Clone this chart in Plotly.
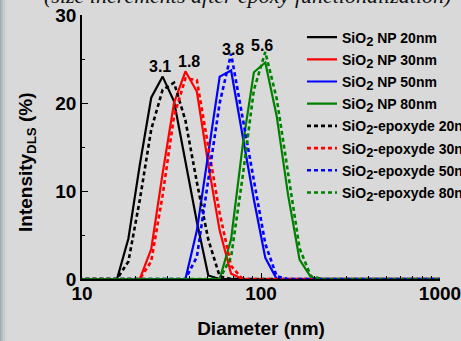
import math
import plotly.graph_objects as go

# DLS size bins (nm)
diameter = [8.721, 10.1, 11.7, 13.54, 15.69, 18.17, 21.04, 24.36, 28.21, 32.67,
            37.84, 43.82, 50.75, 58.77, 68.06, 78.82, 91.28, 105.7, 122.4, 141.8,
            164.2, 190.1, 220.2, 255.0, 295.3, 342.0, 396.1, 458.7, 531.2, 615.1,
            712.4, 825.0, 955.4, 1106]

np20 = [0, 0, 0, 0, 0, 4.6, 13.0, 20.6, 23.0, 20.2, 13.5, 6.5, 0.4, 0, 0, 0, 0,
        0, 0, 0, 0, 0, 0, 0, 0, 0, 0, 0, 0, 0, 0, 0, 0, 0]
np30 = [0, 0, 0, 0, 0, 0, 0, 3.4, 12.0, 20.0, 23.6, 21.3, 13.0, 5.5, 0.6, 0, 0,
        0, 0, 0, 0, 0, 0, 0, 0, 0, 0, 0, 0, 0, 0, 0, 0, 0]
np50 = [0, 0, 0, 0, 0, 0, 0, 0, 0, 0, 0, 5.5, 14.5, 23.0, 23.7, 16.5, 9.0,
        2.4, 0, 0, 0, 0, 0, 0, 0, 0, 0, 0, 0, 0, 0, 0, 0, 0]
np80 = [0, 0, 0, 0, 0, 0, 0, 0, 0, 0, 0, 0, 0, 0, 4.5, 15.0, 23.5,
        24.6, 18.5, 9.5, 2.2, 0.2, 0, 0, 0, 0, 0, 0, 0, 0, 0, 0, 0, 0]
ep20 = [0, 0, 0, 0, 0, 2.0, 9.0, 17.0, 21.5, 22.3, 18.0, 11.0, 4.5, 0.3, 0, 0, 0,
        0, 0, 0, 0, 0, 0, 0, 0, 0, 0, 0, 0, 0, 0, 0, 0, 0]
ep30 = [0, 0, 0, 0, 0, 0, 0, 2.0, 9.5, 18.5, 22.8, 22.6, 15.0, 7.5, 1.5, 0, 0,
        0, 0, 0, 0, 0, 0, 0, 0, 0, 0, 0, 0, 0, 0, 0, 0, 0]
ep50 = [0, 0, 0, 0, 0, 0, 0, 0, 0, 0, 0, 2.5, 11.5, 20.0, 25.6, 18.5, 11.0,
        4.0, 0.3, 0, 0, 0, 0, 0, 0, 0, 0, 0, 0, 0, 0, 0, 0, 0]
ep80 = [0, 0, 0, 0, 0, 0, 0, 0, 0, 0, 0, 0, 0, 0, 2.5, 11.5, 21.5,
        25.8, 20.5, 12.0, 3.5, 0.3, 0, 0, 0, 0, 0, 0, 0, 0, 0, 0, 0, 0]

SUB2 = "<sub><span style='font-size:13px'>2</span></sub>"
series_names = ["SiO" + SUB2 + " NP 20nm", "SiO" + SUB2 + " NP 30nm",
                "SiO" + SUB2 + " NP 50nm", "SiO" + SUB2 + " NP 80nm",
                "SiO" + SUB2 + "-epoxyde 20nm", "SiO" + SUB2 + "-epoxyde 30nm",
                "SiO" + SUB2 + "-epoxyde 50nm", "SiO" + SUB2 + "-epoxyde 80nm"]
series_values = [np20, np30, np50, np80, ep20, ep30, ep50, ep80]
series_colors = ["#000000", "#ff0000", "#0000ff", "#008000",
                 "#000000", "#ff0000", "#0000ff", "#008000"]
series_dash = ["solid"] * 4 + ["4px,3px"] * 4

# size increment labels above peaks
inc_labels = ["3.1", "1.8", "3.8", "5.6"]
inc_x = [27.3, 39.6, 69.8, 101.3]
inc_y = [24.2, 24.7, 26.1, 26.5]

x_ticks = [10, 100, 1000]
x_ticktext = ["<b>10</b>", "<b>100</b>", "<b>1000</b>"]
y_ticks = [0, 10, 20, 30]
y_ticktext = ["<b>0</b>", "<b>10</b>", "<b>20</b>", "<b>30</b>"]

W, H = 461, 341
L, R, T, B = 82, 21, 15, 62
pw, ph = W - L - R, H - T - B

fig = go.Figure()
for i, (nm, vals, col, dsh) in enumerate(zip(series_names, series_values,
                                             series_colors, series_dash)):
    fig.add_trace(go.Scatter(
        x=diameter, y=vals, mode="lines", name="<b>" + nm + "</b>",
        line=dict(color=col, width=2.2 if dsh == "solid" else 2.6, dash=dsh),
        legendgroup=f"g{i}", showlegend=True))

for lab, xv, yv in zip(inc_labels, inc_x, inc_y):
    fig.add_annotation(x=math.log10(xv), y=yv, xref="x", yref="y",
                       text="<b>" + lab + "</b>", showarrow=False,
                       font=dict(size=16, color="black", family="Liberation Sans"),
                       xanchor="center", yanchor="middle")

# partially visible caption at top
fig.add_annotation(x=(247.5 - L) / pw, y=(H - B + 4) / ph, xref="paper",
                   yref="paper", xanchor="center", yanchor="middle",
                   text="<i>(size increments after epoxy functionalization)</i>",
                   showarrow=False,
                   font=dict(size=22, color="#111111", family="Liberation Serif"))

# y-axis title (placed slightly below plot centre, as in the original)
fig.add_annotation(x=(27 - L) / pw, y=(H - B - 162) / ph, xref="paper",
                   yref="paper", textangle=-90, showarrow=False,
                   xanchor="center", yanchor="middle",
                   text="<b>Intensity<sub>DLS</sub> (%)</b>",
                   font=dict(size=19, color="black", family="Liberation Sans"))

# left edge shading strip
strip_cols = ["rgba(150,165,170,0.9)", "rgba(165,178,182,0.7)",
              "rgba(180,190,193,0.5)", "rgba(195,201,203,0.35)",
              "rgba(205,208,209,0.2)"]
for k, c in enumerate(strip_cols):
    fig.add_shape(type="rect", xref="paper", yref="paper",
                  x0=(-L + k * 1.6) / pw, x1=(-L + (k + 1) * 1.6) / pw,
                  y0=-B / ph - 0.01, y1=(ph + T) / ph + 0.01,
                  line=dict(width=0), fillcolor=c, layer="below")

axis_font = dict(size=19, color="black", family="Liberation Sans")
fig.update_layout(
    width=W, height=H,
    margin=dict(l=L, r=R, t=T, b=B, autoexpand=False),
    paper_bgcolor="#d9d9d9", plot_bgcolor="#d9d9d9",
    font=dict(family="Liberation Sans", color="black"),
    showlegend=True,
    legend=dict(x=(302 - L) / pw, y=(H - B - 21.5) / ph, xanchor="left",
                yanchor="top", bgcolor="rgba(0,0,0,0)", borderwidth=0,
                font=dict(size=14, color="black", family="Liberation Sans"),
                traceorder="grouped", tracegroupgap=1, itemwidth=30),
    xaxis=dict(type="log", range=[1, 3], tickvals=x_ticks, ticktext=x_ticktext,
               ticks="inside", ticklen=6, tickwidth=1.2, tickcolor="black",
               showline=True, linecolor="black", linewidth=1.5,
               showgrid=False, zeroline=False, tickfont=axis_font,
               ticklabelstandoff=-4, ticklabeloverflow="allow",
               minor=dict(tickvals=[20, 30, 40, 50, 60, 70, 80, 90,
                                    200, 300, 400, 500, 600, 700, 800, 900],
                          ticks="inside", ticklen=3, tickcolor="black",
                          showgrid=False),
               title=dict(text="<b>Diameter (nm)</b>", font=axis_font,
                          standoff=19)),
    yaxis=dict(range=[0, 30], tickvals=y_ticks, ticktext=y_ticktext,
               ticks="inside", ticklen=6, tickwidth=1.2, tickcolor="black",
               showline=True, linecolor="black", linewidth=1.5,
               showgrid=False, zeroline=False, tickfont=axis_font,
               ticklabeloverflow="allow",
               minor=dict(tickvals=[5, 15, 25], ticks="inside", ticklen=3,
                          tickcolor="black", showgrid=False)),
)

fig.write_html("out.html", config={"displayModeBar": False},
               post_script="document.body.style.margin='0';"
                           "document.body.style.background='#d9d9d9';")
